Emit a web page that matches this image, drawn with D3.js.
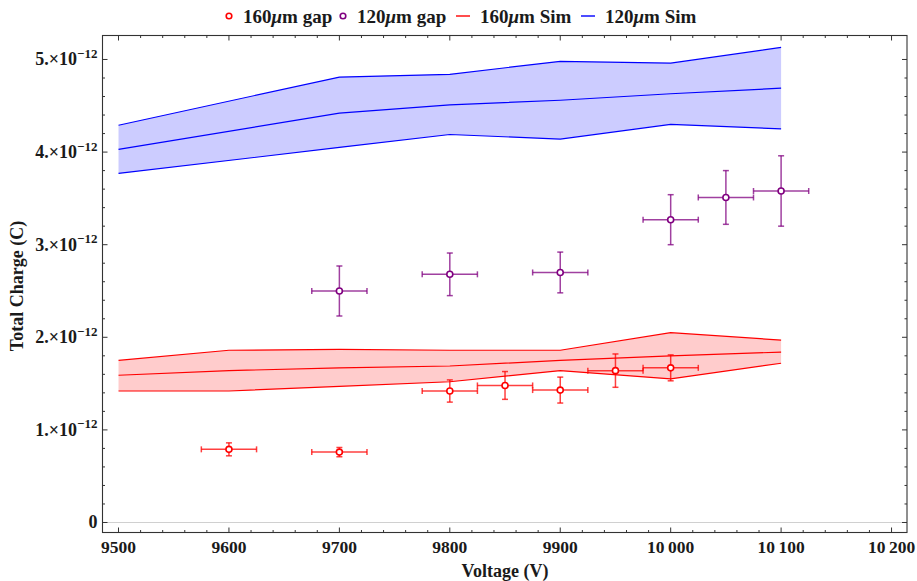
<!DOCTYPE html>
<html>
<head>
<meta charset="utf-8">
<script src="https://cdn.jsdelivr.net/npm/d3@7"></script>
<style>
  html, body { margin: 0; padding: 0; background: #fff; }
  svg { display: block; }
  text { font-family: "Liberation Serif", "DejaVu Serif", serif; font-weight: bold; fill: #1a1a1a; }
</style>
</head>
<body>
<svg id="chart" width="917" height="581"></svg>
<script>
// Charge values are in units of 1e-12 C
const simVoltage160 = [9500, 9600, 9700, 9800, 9900, 10000, 10100];
const sim160Mean  = [1.59, 1.64, 1.67, 1.69, 1.75, 1.80, 1.84];
const sim160Upper = [1.75, 1.86, 1.87, 1.86, 1.86, 2.05, 1.97];
const sim160Lower = [1.42, 1.42, 1.47, 1.52, 1.64, 1.55, 1.72];

const simVoltage120 = [9500, 9700, 9800, 9900, 10000, 10100];
const sim120Mean  = [4.03, 4.42, 4.51, 4.56, 4.63, 4.69];
const sim120Upper = [4.29, 4.81, 4.84, 4.98, 4.96, 5.13];
const sim120Lower = [3.77, 4.05, 4.19, 4.14, 4.30, 4.25];

const gap160Voltage = [9600, 9700, 9800, 9850, 9900, 9950, 10000];
const gap160Charge  = [0.79, 0.76, 1.42, 1.48, 1.43, 1.64, 1.67];
const gap160Err     = [0.07, 0.05, 0.12, 0.15, 0.14, 0.18, 0.14];

const gap120Voltage = [9700, 9800, 9900, 10000, 10050, 10100];
const gap120Charge  = [2.50, 2.68, 2.70, 3.27, 3.51, 3.58];
const gap120Err     = [0.27, 0.23, 0.22, 0.27, 0.29, 0.38];

const voltageErr = 25;

const xTickValues = [9500, 9600, 9700, 9800, 9900, 10000, 10100, 10200];
const xTickLabels = ["9500", "9600", "9700", "9800", "9900", "10\u2009000", "10\u2009100", "10\u2009200"];
const yTickValues = [0, 1, 2, 3, 4, 5];
const yTickLabels = ["0", "1.", "2.", "3.", "4.", "5."];

const legendLabels = ["160", "120", "160", "120"];

const RED = "#ff0000", PURPLE = "#800080", BLUE = "#0000ff";

const svg = d3.select("#chart");
const frame = { left: 102.5, right: 907, top: 35.5, bottom: 532.5 };

const x = d3.scaleLinear().domain([9485.5, 10214]).range([frame.left, frame.right]);
const y = d3.scaleLinear().domain([-0.108, 5.259]).range([frame.bottom, frame.top]);

// zero reference line
svg.append("line")
  .attr("x1", frame.left).attr("x2", frame.right)
  .attr("y1", y(0)).attr("y2", y(0))
  .attr("stroke", "#d0d0d0").attr("stroke-width", 1);

// simulation bands
function band(vs, lo, hi, mean, fill, stroke) {
  const pts = vs.map((v, i) => ({ v, lo: lo[i], hi: hi[i], m: mean[i] }));
  const g = svg.append("g");
  g.append("path").datum(pts)
    .attr("d", d3.area().x(d => x(d.v)).y0(d => y(d.lo)).y1(d => y(d.hi)))
    .attr("fill", fill).attr("stroke", "none");
  for (const key of ["hi", "m", "lo"]) {
    g.append("path").datum(pts)
      .attr("d", d3.line().x(d => x(d.v)).y(d => y(d[key])))
      .attr("fill", "none").attr("stroke", stroke).attr("stroke-width", 1.2);
  }
}
band(simVoltage120, sim120Lower, sim120Upper, sim120Mean, "#ccccff", BLUE);
band(simVoltage160, sim160Lower, sim160Upper, sim160Mean, "#ffcccc", RED);

// measured points with error bars
function errorPoints(vs, qs, errs, color) {
  const g = svg.append("g");
  const cap = 3;
  vs.forEach((v, i) => {
    const cx = x(v), cy = y(qs[i]);
    const xl = x(v - voltageErr), xr = x(v + voltageErr);
    const yt = y(qs[i] + errs[i]), yb = y(qs[i] - errs[i]);
    const bar = g.append("g").attr("stroke", color).attr("stroke-width", 1.5).attr("stroke-opacity", 0.75);
    bar.append("line").attr("x1", xl).attr("x2", xr).attr("y1", cy).attr("y2", cy);
    bar.append("line").attr("x1", xl).attr("x2", xl).attr("y1", cy - cap).attr("y2", cy + cap);
    bar.append("line").attr("x1", xr).attr("x2", xr).attr("y1", cy - cap).attr("y2", cy + cap);
    bar.append("line").attr("x1", cx).attr("x2", cx).attr("y1", yt).attr("y2", yb);
    bar.append("line").attr("x1", cx - cap).attr("x2", cx + cap).attr("y1", yt).attr("y2", yt);
    bar.append("line").attr("x1", cx - cap).attr("x2", cx + cap).attr("y1", yb).attr("y2", yb);
    g.append("circle").attr("cx", cx).attr("cy", cy).attr("r", 3)
      .attr("fill", "#fff").attr("stroke", color).attr("stroke-width", 1.6);
  });
}
errorPoints(gap120Voltage, gap120Charge, gap120Err, PURPLE);
errorPoints(gap160Voltage, gap160Charge, gap160Err, RED);

// frame and ticks
const axisColor = "#333";
svg.append("rect")
  .attr("x", frame.left).attr("y", frame.top)
  .attr("width", frame.right - frame.left).attr("height", frame.bottom - frame.top)
  .attr("fill", "none").attr("stroke", axisColor).attr("stroke-width", 1.1);

const ticks = svg.append("g").attr("stroke", axisColor).attr("stroke-width", 1);
const xMinor = d3.range(9500, 10201, 20);
xMinor.forEach(v => {
  const major = v % 100 === 0;
  const len = major ? 5 : 2.5;
  const px = x(v);
  ticks.append("line").attr("x1", px).attr("x2", px).attr("y1", frame.bottom).attr("y2", frame.bottom - len);
  ticks.append("line").attr("x1", px).attr("x2", px).attr("y1", frame.top).attr("y2", frame.top + len);
});
const yMinor = d3.range(0, 51, 2).map(d => d / 10);
yMinor.forEach((v, i) => {
  const major = i % 5 === 0;
  const len = major ? 5 : 2.5;
  const py = y(v);
  ticks.append("line").attr("x1", frame.left).attr("x2", frame.left + len).attr("y1", py).attr("y2", py);
  ticks.append("line").attr("x1", frame.right).attr("x2", frame.right - len).attr("y1", py).attr("y2", py);
});

// tick labels
xTickValues.forEach((v, i) => {
  svg.append("text").attr("x", x(v)).attr("y", 552.5)
    .attr("text-anchor", "middle").attr("font-size", 17.5)
    .text(xTickLabels[i]);
});
yTickValues.forEach((v, i) => {
  const t = svg.append("text").attr("x", 97.5).attr("y", y(v) + 6)
    .attr("text-anchor", "end").attr("font-size", 18);
  if (v === 0) { t.text(yTickLabels[i]); return; }
  t.append("tspan").text(yTickLabels[i] + "\u00d710");
  t.append("tspan").attr("font-size", 13).attr("dy", -7.5).text("\u221212");
});

// axis titles
svg.append("text").attr("x", 505).attr("y", 577)
  .attr("text-anchor", "middle").attr("font-size", 18).text("Voltage (V)");
svg.append("text").attr("transform", "translate(23,286) rotate(-90)")
  .attr("text-anchor", "middle").attr("font-size", 18).text("Total Charge (C)");

// legend
const legend = svg.append("g").attr("transform", "translate(0,16)");
const legendItems = [
  { kind: "point", color: RED, num: legendLabels[0], word: "gap", x: 229 },
  { kind: "point", color: PURPLE, num: legendLabels[1], word: "gap", x: 343 },
  { kind: "line", color: RED, num: legendLabels[2], word: "Sim", x: 463 },
  { kind: "line", color: BLUE, num: legendLabels[3], word: "Sim", x: 588 }
];
legendItems.forEach(it => {
  if (it.kind === "point") {
    legend.append("circle").attr("cx", it.x).attr("cy", 0).attr("r", 2.8)
      .attr("fill", "#fff").attr("stroke", it.color).attr("stroke-width", 1.6);
  } else {
    legend.append("line").attr("x1", it.x - 7).attr("x2", it.x + 7).attr("y1", 0).attr("y2", 0)
      .attr("stroke", it.color).attr("stroke-width", 1.4);
  }
  const t = legend.append("text").attr("x", it.x + (it.kind === "point" ? 14 : 17)).attr("y", 6.5)
    .attr("font-size", 19);
  t.append("tspan").text(it.num);
  t.append("tspan").attr("font-style", "italic").text("\u03bc");
  t.append("tspan").text("m " + it.word);
});
</script>
</body>
</html>
